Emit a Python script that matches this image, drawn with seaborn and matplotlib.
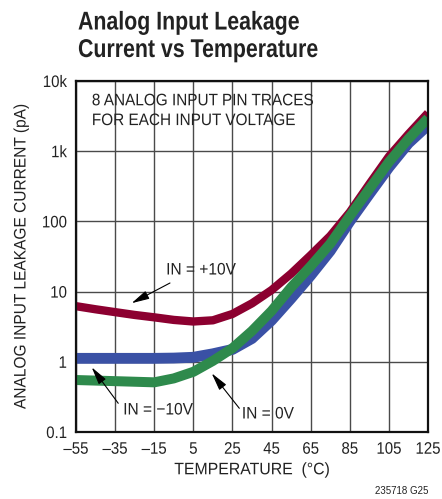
import numpy as np
import pandas as pd
import matplotlib
matplotlib.use("Agg")
import matplotlib.pyplot as plt
from matplotlib import patheffects
from matplotlib.transforms import Affine2D
import seaborn as sns

# Temperature sweep (°C)
temperature = [-55, -45, -35, -25, -15, -5, 5, 15, 25, 35, 45, 55, 65, 75, 85, 95, 105, 115, 125]

# Leakage current (pA) for each input voltage
leak_pos10 = [6.2, 5.6, 5.1, 4.65, 4.3, 3.95, 3.75, 3.9, 4.8, 6.8, 10.5, 18, 33, 62, 135, 340, 840, 1750, 3500]
leak_neg10 = [1.12, 1.12, 1.12, 1.12, 1.12, 1.13, 1.16, 1.3, 1.5, 2.15, 3.9, 8.0, 17, 38, 100, 245, 590, 1300, 2350]
leak_0v = [0.55, 0.54, 0.53, 0.52, 0.51, 0.58, 0.72, 1.03, 1.56, 2.75, 5.3, 11.5, 23, 48, 119, 290, 700, 1500, 2950]

series_names = ["IN = +10V", "IN = \u221210V", "IN = 0V"]
colors = ["#8c0030", "#3a51a5", "#2e8a4c"]
band_widths = [6.0, 7.8, 7.2]

x_ticks = [-55, -35, -15, 5, 25, 45, 65, 85, 105, 125]
x_tick_labels = ["\u201355", "\u201335", "\u201315", "5", "25", "45", "65", "85", "105", "125"]
y_ticks = [0.1, 1, 10, 100, 1000, 10000]
y_tick_labels = ["0.1", "1", "10", "100", "1k", "10k"]


class Condense(patheffects.AbstractPathEffect):
    """Squeeze glyph outlines horizontally to mimic a condensed typeface."""

    def __init__(self, sx, anchor="center"):
        super().__init__()
        self.sx = sx
        self.anchor = anchor

    def draw_path(self, renderer, gc, tpath, affine, rgbFace=None):
        ext = tpath.get_extents()
        if self.anchor == "left":
            cx = 0.0
        elif self.anchor == "right":
            cx = ext.x1
        else:
            cx = 0.5 * (ext.x0 + ext.x1)
        squeeze = Affine2D().translate(-cx, 0).scale(self.sx, 1.0).translate(cx, 0)
        renderer.draw_path(gc, tpath, squeeze + affine, rgbFace)


df = pd.concat([
    pd.DataFrame({"temp": temperature, "leak": vals, "input": name})
    for name, vals in zip(series_names, [leak_pos10, leak_neg10, leak_0v])
], ignore_index=True)

sns.set_theme(style="white")
font = ["Liberation Sans", "DejaVu Sans"]
plt.rcParams["font.family"] = font
ink = "#222222"

fig = plt.figure(figsize=(4.42, 4.99), dpi=100)
ax = fig.add_axes([76 / 442, 1 - 432 / 499, 352 / 442, 351 / 499])

sns.lineplot(data=df, x="temp", y="leak", hue="input", hue_order=series_names,
             size="input", size_order=series_names,
             sizes=dict(zip(series_names, band_widths)),
             palette=dict(zip(series_names, colors)),
             legend=False, ax=ax, solid_capstyle="butt", solid_joinstyle="round")

ax.set_yscale("log")
ax.set_xlim(-55, 125)
ax.set_ylim(0.1, 10000)
ax.set_xticks(x_ticks)
ax.set_xticklabels(x_tick_labels)
ax.set_yticks(y_ticks)
ax.set_yticklabels(y_tick_labels)
ax.yaxis.set_minor_locator(matplotlib.ticker.NullLocator())
ax.tick_params(axis="both", length=0, labelsize=12, colors=ink)
ax.tick_params(axis="x", pad=7)
ax.tick_params(axis="y", pad=6.5)
for lbl in ax.get_xticklabels():
    lbl.set_path_effects([Condense(0.9, "center")])
for lbl in ax.get_yticklabels():
    lbl.set_path_effects([Condense(0.9, "right")])

ax.grid(True, which="major", color="#4a4a4a", linewidth=1.0)
ax.set_axisbelow(True)
for s in ax.spines.values():
    s.set_visible(True)
    s.set_color("#111111")
    s.set_linewidth(1.6)

ax.set_xlabel("TEMPERATURE  (\u00b0C)", fontsize=12, color=ink, labelpad=4,
              path_effects=[Condense(0.95)])
ax.set_ylabel("ANALOG INPUT LEAKAGE CURRENT (pA)", fontsize=12, color=ink,
              path_effects=[Condense(0.93)])
ax.yaxis.set_label_coords(-0.135, 0.5)

title_fx = [Condense(0.83, "left")]
fig.text(78 / 442, 1 - 29.5 / 499, "Analog Input Leakage", ha="left", va="baseline",
         fontsize=18.5, fontweight="bold", color=ink, path_effects=title_fx)
fig.text(78 / 442, 1 - 57 / 499, "Current vs Temperature", ha="left", va="baseline",
         fontsize=18.5, fontweight="bold", color=ink, path_effects=title_fx)

note_fx = [Condense(0.92, "left")]
ax.text(0.045, 0.965, "8 ANALOG INPUT PIN TRACES\nFOR EACH INPUT VOLTAGE",
        transform=ax.transAxes, ha="left", va="top", fontsize=12, color=ink,
        linespacing=1.4, path_effects=note_fx)

arrow = dict(arrowstyle="-|>,head_length=0.9,head_width=0.22", color="black",
             lw=0.8, mutation_scale=12, shrinkA=0, shrinkB=0)
label_fx = [Condense(0.93)]

ax.text(0.355, 0.4615, "IN = +10V", transform=ax.transAxes, ha="center", va="center",
        fontsize=12, color=ink, path_effects=label_fx)
ax.annotate("", xy=(0.158, 0.367), xytext=(0.267, 0.4245),
            xycoords="axes fraction", textcoords="axes fraction", arrowprops=arrow)

ax.text(0.233, 0.0627, "IN = \u221210V", transform=ax.transAxes, ha="center", va="center",
        fontsize=12, color=ink, path_effects=label_fx)
ax.annotate("", xy=(0.0446, 0.1843), xytext=(0.120, 0.0818),
            xycoords="axes fraction", textcoords="axes fraction", arrowprops=arrow)

ax.text(0.545, 0.0513, "IN = 0V", transform=ax.transAxes, ha="center", va="center",
        fontsize=12, color=ink, path_effects=label_fx)
ax.annotate("", xy=(0.3855, 0.1672), xytext=(0.464, 0.0675),
            xycoords="axes fraction", textcoords="axes fraction", arrowprops=arrow)

fig.text(428 / 442, 1 - 491 / 499, "235718 G25", ha="right", va="center",
         fontsize=7, color=ink)

fig.savefig("out.png", dpi=100, facecolor="white")
